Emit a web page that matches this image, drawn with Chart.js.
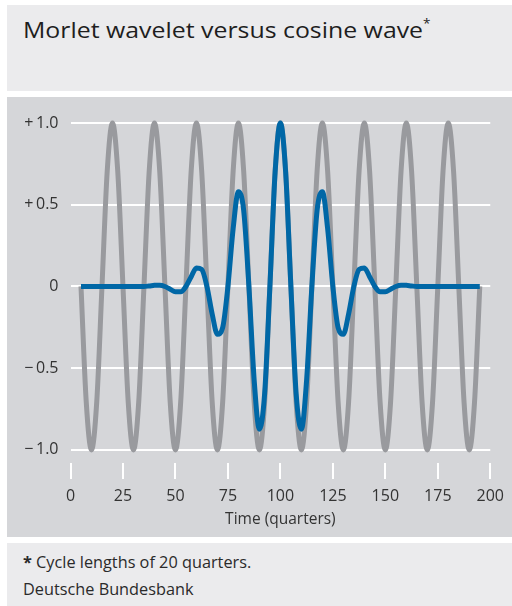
<!DOCTYPE html>
<html>
<head>
<meta charset="utf-8">
<script src="https://cdn.jsdelivr.net/npm/chart.js@4.4.0/dist/chart.umd.min.js"></script>
<style>
  body { margin: 0; width: 512px; height: 606px; background: #fff; font-family: "Open Sans", sans-serif; position: relative; overflow: hidden; }
  #title { position: absolute; left: 7px; top: 5px; width: 505px; height: 86px; background: #ebebed; }
  #title h1 { margin: 0; position: absolute; left: 16px; top: 9px; font-size: 22px; font-weight: 400; color: #1e1e1e; white-space: nowrap; transform: scaleX(1.13); transform-origin: left top; }
  #title sup { font-size: 12px; vertical-align: 10px; line-height: 0; }
  #plot { position: absolute; left: 7px; top: 97px; width: 505px; height: 440px; background: #d5d6d9; }
  #foot { position: absolute; left: 7px; top: 543px; width: 505px; height: 63px; background: #ebebed; color: #2a2a2a; font-size: 15.5px; }
  #foot p { margin: 0; position: absolute; left: 16px; white-space: nowrap; transform: scaleX(1.05); transform-origin: left top; }
</style>
</head>
<body>
<div id="title"><h1>Morlet wavelet versus cosine wave<sup>*</sup></h1></div>
<div id="plot"><canvas id="chart" width="505" height="440"></canvas></div>
<div id="foot">
  <p style="top:8px"><b>*</b> Cycle lengths of 20 quarters.</p>
  <p style="top:35px">Deutsche Bundesbank</p>
</div>
<script>
// Time axis (quarters), sampled every 2.5 quarters
const quarters = [
  5, 7.5, 10, 12.5, 15, 17.5, 20, 22.5,
  25, 27.5, 30, 32.5, 35, 37.5, 40, 42.5,
  45, 47.5, 50, 52.5, 55, 57.5, 60, 62.5,
  65, 67.5, 70, 72.5, 75, 77.5, 80, 82.5,
  85, 87.5, 90, 92.5, 95, 97.5, 100, 102.5,
  105, 107.5, 110, 112.5, 115, 117.5, 120, 122.5,
  125, 127.5, 130, 132.5, 135, 137.5, 140, 142.5,
  145, 147.5, 150, 152.5, 155, 157.5, 160, 162.5,
  165, 167.5, 170, 172.5, 175, 177.5, 180, 182.5,
  185, 187.5, 190, 192.5, 195
];

// Cosine wave, cycle length 20 quarters
const cosine = [
  0, -0.707, -1, -0.707, 0, 0.707, 1, 0.707,
  0, -0.707, -1, -0.707, 0, 0.707, 1, 0.707,
  0, -0.707, -1, -0.707, 0, 0.707, 1, 0.707,
  0, -0.707, -1, -0.707, 0, 0.707, 1, 0.707,
  0, -0.707, -1, -0.707, 0, 0.707, 1, 0.707,
  0, -0.707, -1, -0.707, 0, 0.707, 1, 0.707,
  0, -0.707, -1, -0.707, 0, 0.707, 1, 0.707,
  0, -0.707, -1, -0.707, 0, 0.707, 1, 0.707,
  0, -0.707, -1, -0.707, 0, 0.707, 1, 0.707,
  0, -0.707, -1, -0.707, 0
];

// Morlet wavelet centred on quarter 100
const morlet = [
  0, 0, 0, 0, 0, 0, 0, 0,
  0, 0, 0, 0, 0, 0.003, 0.007, 0.008,
  0, -0.017, -0.033, -0.033, 0, 0.060, 0.113, 0.104,
  0, -0.168, -0.293, -0.252, 0, 0.355, 0.580, 0.466,
  0, -0.572, -0.873, -0.655, 0, 0.701, 1, 0.701,
  0, -0.655, -0.873, -0.572, 0, 0.466, 0.580, 0.355,
  0, -0.252, -0.293, -0.168, 0, 0.104, 0.113, 0.060,
  0, -0.033, -0.033, -0.017, 0, 0.008, 0.007, 0.003,
  0, 0, 0, 0, 0, 0, 0, 0,
  0, 0, 0, 0, 0
];

const xTicks = [0, 25, 50, 75, 100, 125, 150, 175, 200];
const yTicks = [1, 0.5, 0, -0.5, -1];
const yTickLabels = ['+\u20091.0', '+\u20090.5', '0', '\u2212\u20090.5', '\u2212\u20091.0'];

const toPoints = ys => quarters.map((q, i) => ({ x: q, y: ys[i] }));
const tickFont = { family: '"Open Sans", sans-serif', size: 16 };

const ctx = document.getElementById('chart').getContext('2d');
new Chart(ctx, {
  type: 'line',
  data: {
    datasets: [
      {
        label: 'Morlet wavelet',
        data: toPoints(morlet),
        borderColor: '#0067a6',
        borderWidth: 5,
        pointRadius: 0,
        cubicInterpolationMode: 'monotone',
        clip: false
      },
      {
        label: 'Cosine wave',
        data: toPoints(cosine),
        borderColor: '#999a9e',
        borderWidth: 5,
        pointRadius: 0,
        cubicInterpolationMode: 'monotone',
        clip: false
      }
    ]
  },
  options: {
    responsive: false,
    animation: false,
    layout: { padding: { left: 0, right: 17.5, top: 26, bottom: 0 } },
    plugins: { legend: { display: false }, tooltip: { enabled: false } },
    scales: {
      x: {
        type: 'linear',
        min: 0,
        max: 200,
        afterBuildTicks: s => { s.ticks = xTicks.map(v => ({ value: v })); },
        afterFit: s => { s.height = 74; },
        grid: { drawOnChartArea: false, drawTicks: true, tickLength: 16, color: '#fff', lineWidth: 2 },
        border: { display: false },
        ticks: { font: tickFont, color: '#333', padding: 8, maxRotation: 0 },
        title: { display: true, text: 'Time (quarters)', font: { family: '"Open Sans", sans-serif', size: 15.5 }, color: '#333', padding: { top: 0, bottom: 8 } }
      },
      y: {
        min: -1.08,
        max: 1,
        afterBuildTicks: s => { s.ticks = yTicks.map(v => ({ value: v })); },
        afterFit: s => { s.width = 63.5; },
        grid: { color: '#fff', lineWidth: 2, drawTicks: false },
        border: { display: false },
        ticks: {
          font: tickFont,
          color: '#333',
          padding: 12,
          callback: (v, i) => yTickLabels[i]
        }
      }
    }
  }
});
</script>
</body>
</html>
